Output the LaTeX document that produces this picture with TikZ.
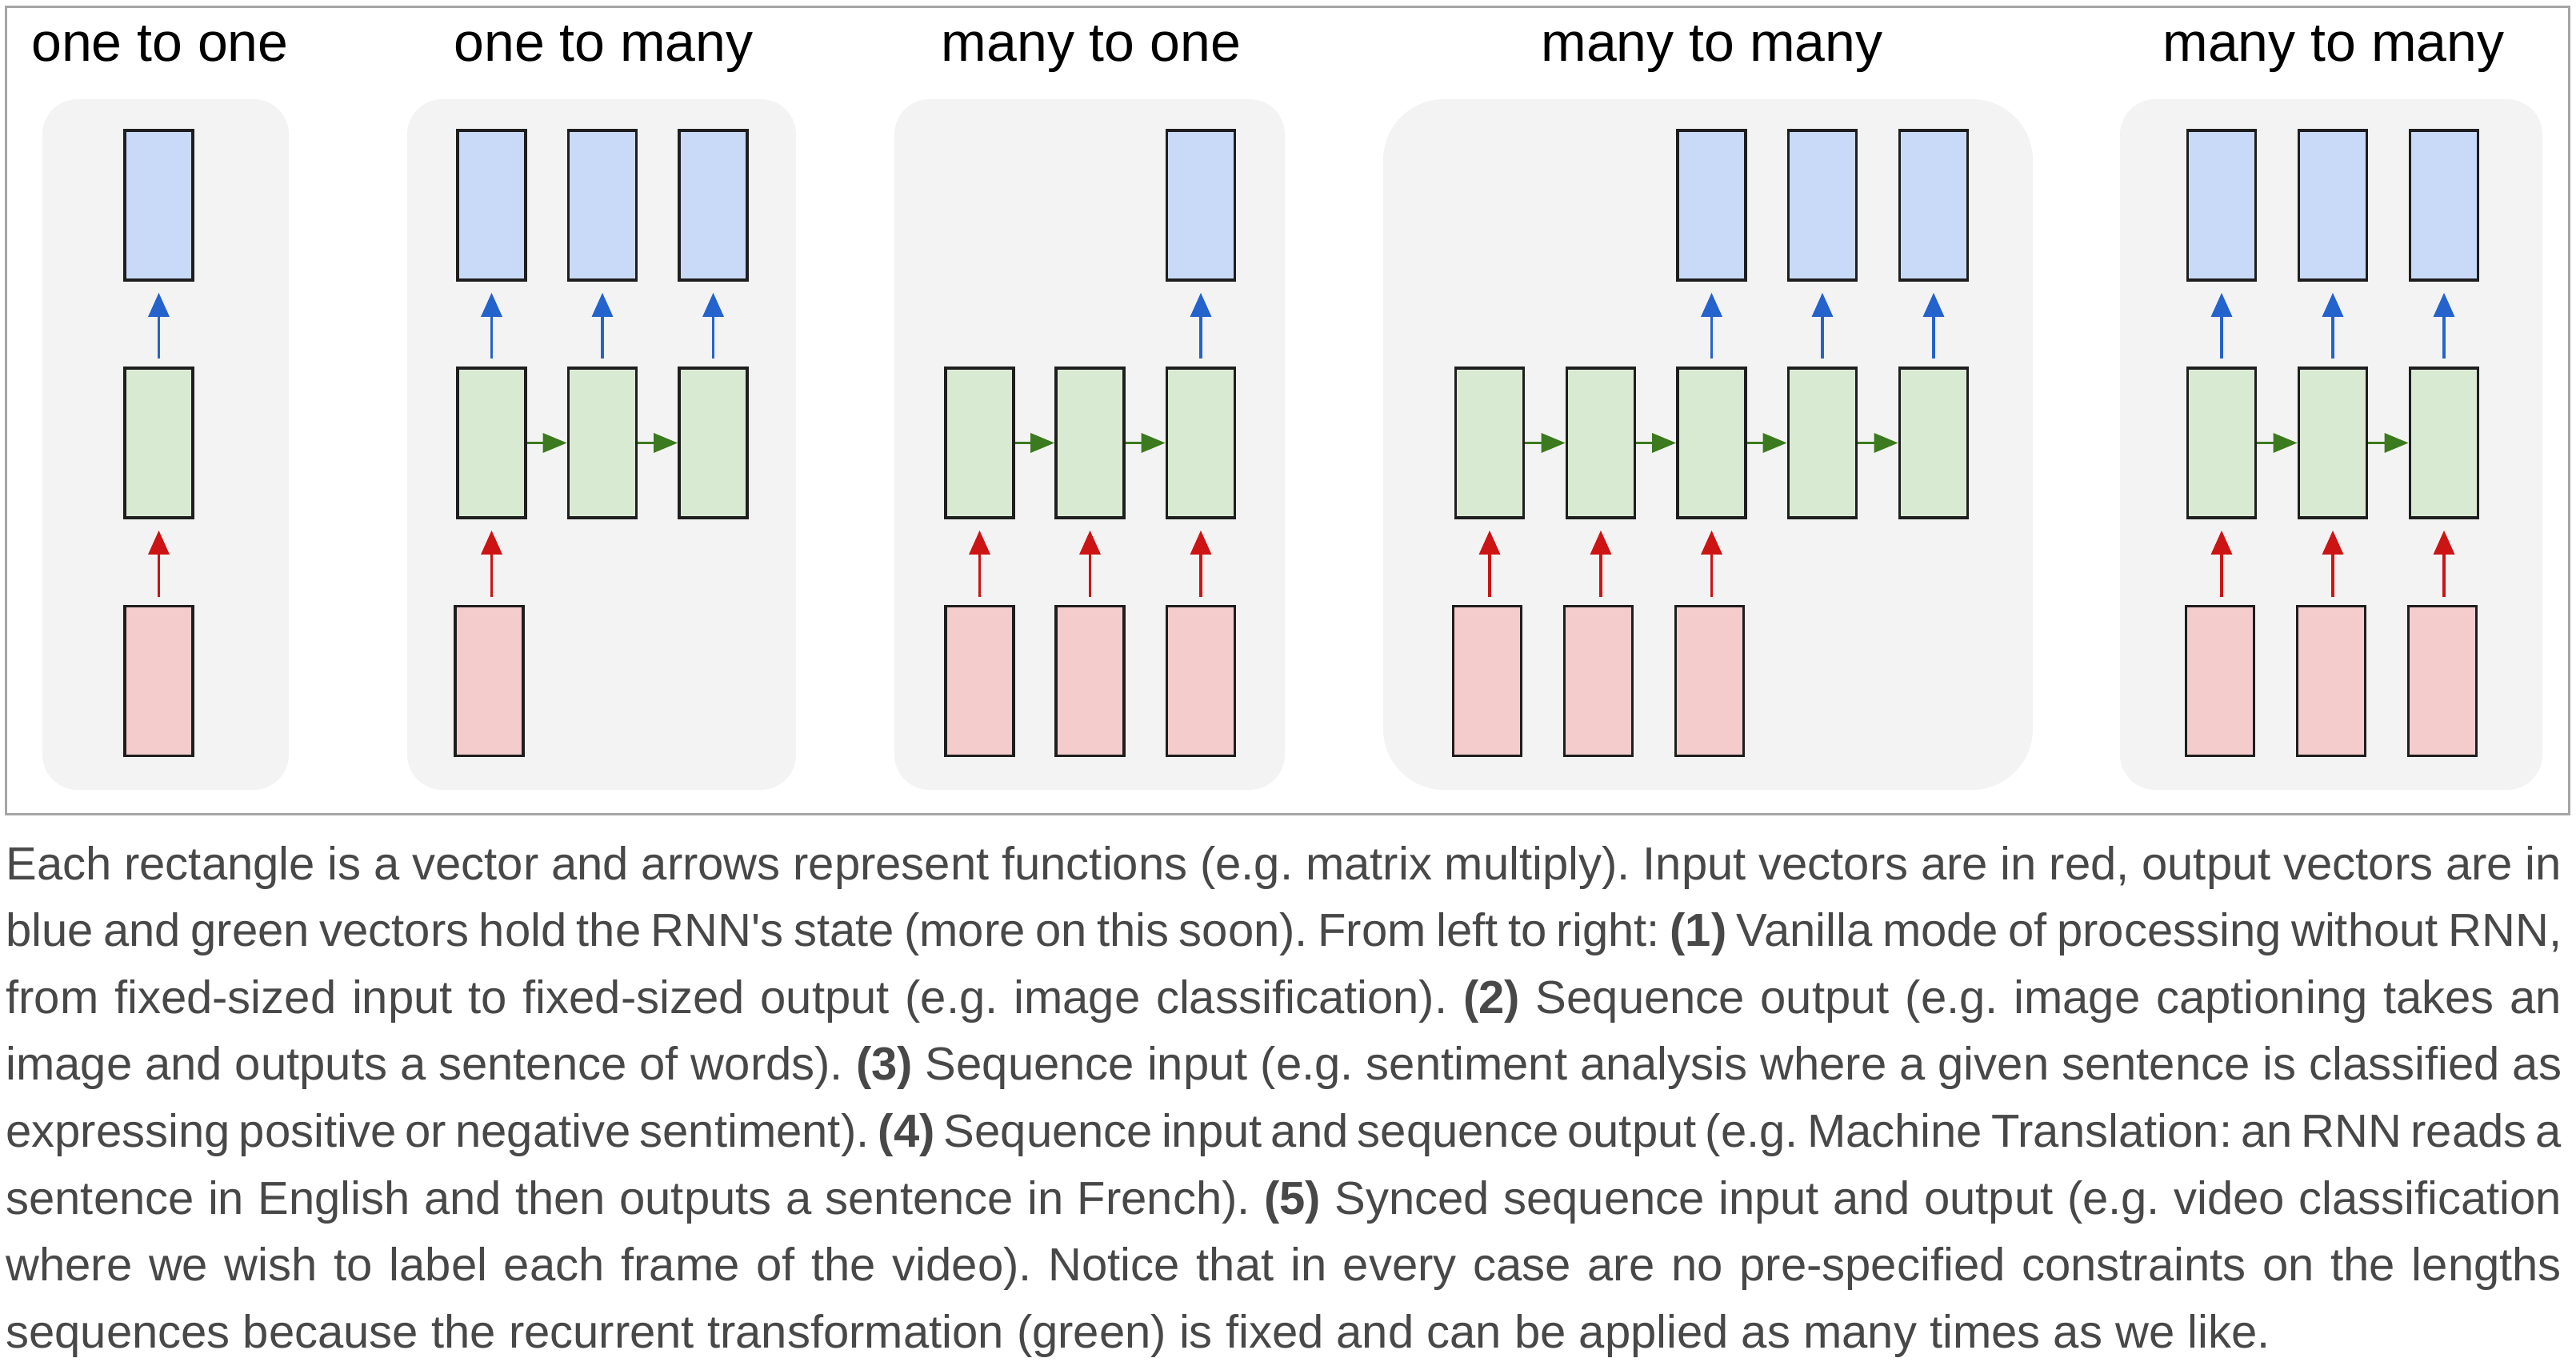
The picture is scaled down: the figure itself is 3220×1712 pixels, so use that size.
\documentclass[tikz,border=0pt]{standalone}
\usepackage{fontspec}
\setmainfont{Liberation Sans}
\usetikzlibrary{arrows.meta}
\definecolor{outfill}{HTML}{C9DAF8}
\definecolor{hidfill}{HTML}{D9EAD3}
\definecolor{infill}{HTML}{F4CCCC}
\definecolor{boxline}{HTML}{1E1E1E}
\definecolor{panelfill}{HTML}{F3F3F3}
\definecolor{framecol}{HTML}{A6A6A6}
\definecolor{bluearr}{HTML}{2563CC}
\definecolor{redarr}{HTML}{CC1414}
\definecolor{greenarr}{HTML}{3B7A1E}
\definecolor{textgray}{HTML}{484848}
\newlength{\lineW}
\setlength{\lineW}{1597.5pt}
\newcommand{\jline}[1]{\makebox[\lineW][s]{#1}}
\begin{document}
\begin{tikzpicture}[x=0.5pt,y=-0.5pt,
  vec/.style={draw=boxline,line width=1.9pt,minimum width=42.5pt,minimum height=93.5pt,inner sep=0pt},
  outvec/.style={vec,fill=outfill},
  hidvec/.style={vec,fill=hidfill},
  invec/.style={vec,fill=infill},
  uparrow/.style={line width=1.6pt,-{Triangle[length=15pt,width=13pt]},shorten <=5pt,shorten >=7pt},
  barrow/.style={uparrow,draw=bluearr},
  rarrow/.style={uparrow,draw=redarr},
  garrow/.style={line width=1.6pt,draw=greenarr,-{Triangle[length=15pt,width=12pt]}},
  panel/.style={fill=panelfill,draw=none,rounded corners=22pt},
  ttl/.style={font=\fontsize{34pt}{40pt}\selectfont,anchor=base,inner sep=0pt,text=black},
  txt/.style={font=\fontsize{29pt}{40pt}\selectfont\frenchspacing,anchor=base west,inner sep=0pt,text=textgray}
]
\useasboundingbox (0,0) rectangle (3220,1712);
\fill[white] (0,0) rectangle (3220,1712);
\draw[framecol,line width=1.5pt] (7,9) rectangle (3211,1017);

% panels
\fill[panel] (53,124) rectangle (361,987);
\fill[panel] (509,124) rectangle (995,987);
\fill[panel] (1118,124) rectangle (1606,987);
\fill[panel,rounded corners=38pt] (1729,124) rectangle (2541,987);
\fill[panel] (2650,124) rectangle (3178,987);

% titles
\node[ttl] (t1) at (200,77) {one to one};
\node[ttl] (t2) at (754.5,77) {one to many};
\node[ttl] (t3) at (1364,77) {many to one};
\node[ttl] (t4) at (2140,77) {many to many};
\node[ttl] (t5) at (2917,77) {many to many};

% panel 1: one to one
\node[outvec] (ao1) at (198.5,256.5) {};
\node[hidvec] (ah1) at (198.5,553.5) {};
\node[invec]  (ai1) at (198.5,851) {};
\draw[barrow] (ah1) -- (ao1);
\draw[rarrow] (ai1) -- (ah1);

% panel 2: one to many
\foreach \n/\x in {1/614.5,2/753,3/891.5}{
  \node[outvec] (bo\n) at (\x,256.5) {};
  \node[hidvec] (bh\n) at (\x,553.5) {};
  \draw[barrow] (bh\n) -- (bo\n);
}
\node[invec] (bi1) at (611.5,851) {};
\draw[rarrow] (bi1.north -| bh1) -- (bh1);
\draw[garrow] (bh1) -- (bh2);
\draw[garrow] (bh2) -- (bh3);

% panel 3: many to one
\foreach \n/\x in {1/1224.5,2/1362.5,3/1501}{
  \node[hidvec] (ch\n) at (\x,553.5) {};
  \node[invec] (ci\n) at (\x,851) {};
  \draw[rarrow] (ci\n) -- (ch\n);
}
\node[outvec] (co3) at (1501,256.5) {};
\draw[barrow] (ch3) -- (co3);
\draw[garrow] (ch1) -- (ch2);
\draw[garrow] (ch2) -- (ch3);

% panel 4: many to many (delayed)
\foreach \n/\x in {1/1862,2/2001,3/2139.5,4/2278,5/2417}{
  \node[hidvec] (dh\n) at (\x,553.5) {};
}
\foreach \n/\x in {1/1859,2/1998,3/2137}{
  \node[invec] (di\n) at (\x,851) {};
  \draw[rarrow] (di\n.north -| dh\n) -- (dh\n);
}
\foreach \n/\x in {3/2139.5,4/2278,5/2417}{
  \node[outvec] (do\n) at (\x,256.5) {};
  \draw[barrow] (dh\n) -- (do\n);
}
\draw[garrow] (dh1) -- (dh2);
\draw[garrow] (dh2) -- (dh3);
\draw[garrow] (dh3) -- (dh4);
\draw[garrow] (dh4) -- (dh5);

% panel 5: many to many (synced)
\foreach \n/\x in {1/2777,2/2916,3/3055}{
  \node[outvec] (eo\n) at (\x,256.5) {};
  \node[hidvec] (eh\n) at (\x,553.5) {};
  \node[invec]  (ei\n) at (\x-2,851) {};
  \draw[barrow] (eh\n) -- (eo\n);
  \draw[rarrow] (ei\n.north -| eh\n) -- (eh\n);
}
\draw[garrow] (eh1) -- (eh2);
\draw[garrow] (eh2) -- (eh3);

% caption
\node[txt] (l1) at (7,1099) {\jline{Each rectangle is a vector and arrows represent functions (e.g. matrix multiply). Input vectors are in red, output vectors are in}};
\node[txt] (l2) at (7,1182.6) {\jline{blue and green vectors hold the RNN\textquotesingle s state (more on this soon). From left to right: \textbf{(1)} Vanilla mode of processing without RNN,}};
\node[txt] (l3) at (7,1266.2) {\jline{from fixed-sized input to fixed-sized output (e.g. image classification). \textbf{(2)} Sequence output (e.g. image captioning takes an}};
\node[txt] (l4) at (7,1349.8) {\jline{image and outputs a sentence of words). \textbf{(3)} Sequence input (e.g. sentiment analysis where a given sentence is classified as}};
\node[txt] (l5) at (7,1433.4) {\jline{expressing positive or negative sentiment). \textbf{(4)} Sequence input and sequence output (e.g. Machine Translation: an RNN reads a}};
\node[txt] (l6) at (7,1517) {\jline{sentence in English and then outputs a sentence in French). \textbf{(5)} Synced sequence input and output (e.g. video classification}};
\node[txt] (l7) at (7,1600.6) {\jline{where we wish to label each frame of the video). Notice that in every case are no pre-specified constraints on the lengths}};
\node[txt] (l8) at (7,1684.2) {sequences because the recurrent transformation (green) is fixed and can be applied as many times as we like.};
\end{tikzpicture}
\end{document}
